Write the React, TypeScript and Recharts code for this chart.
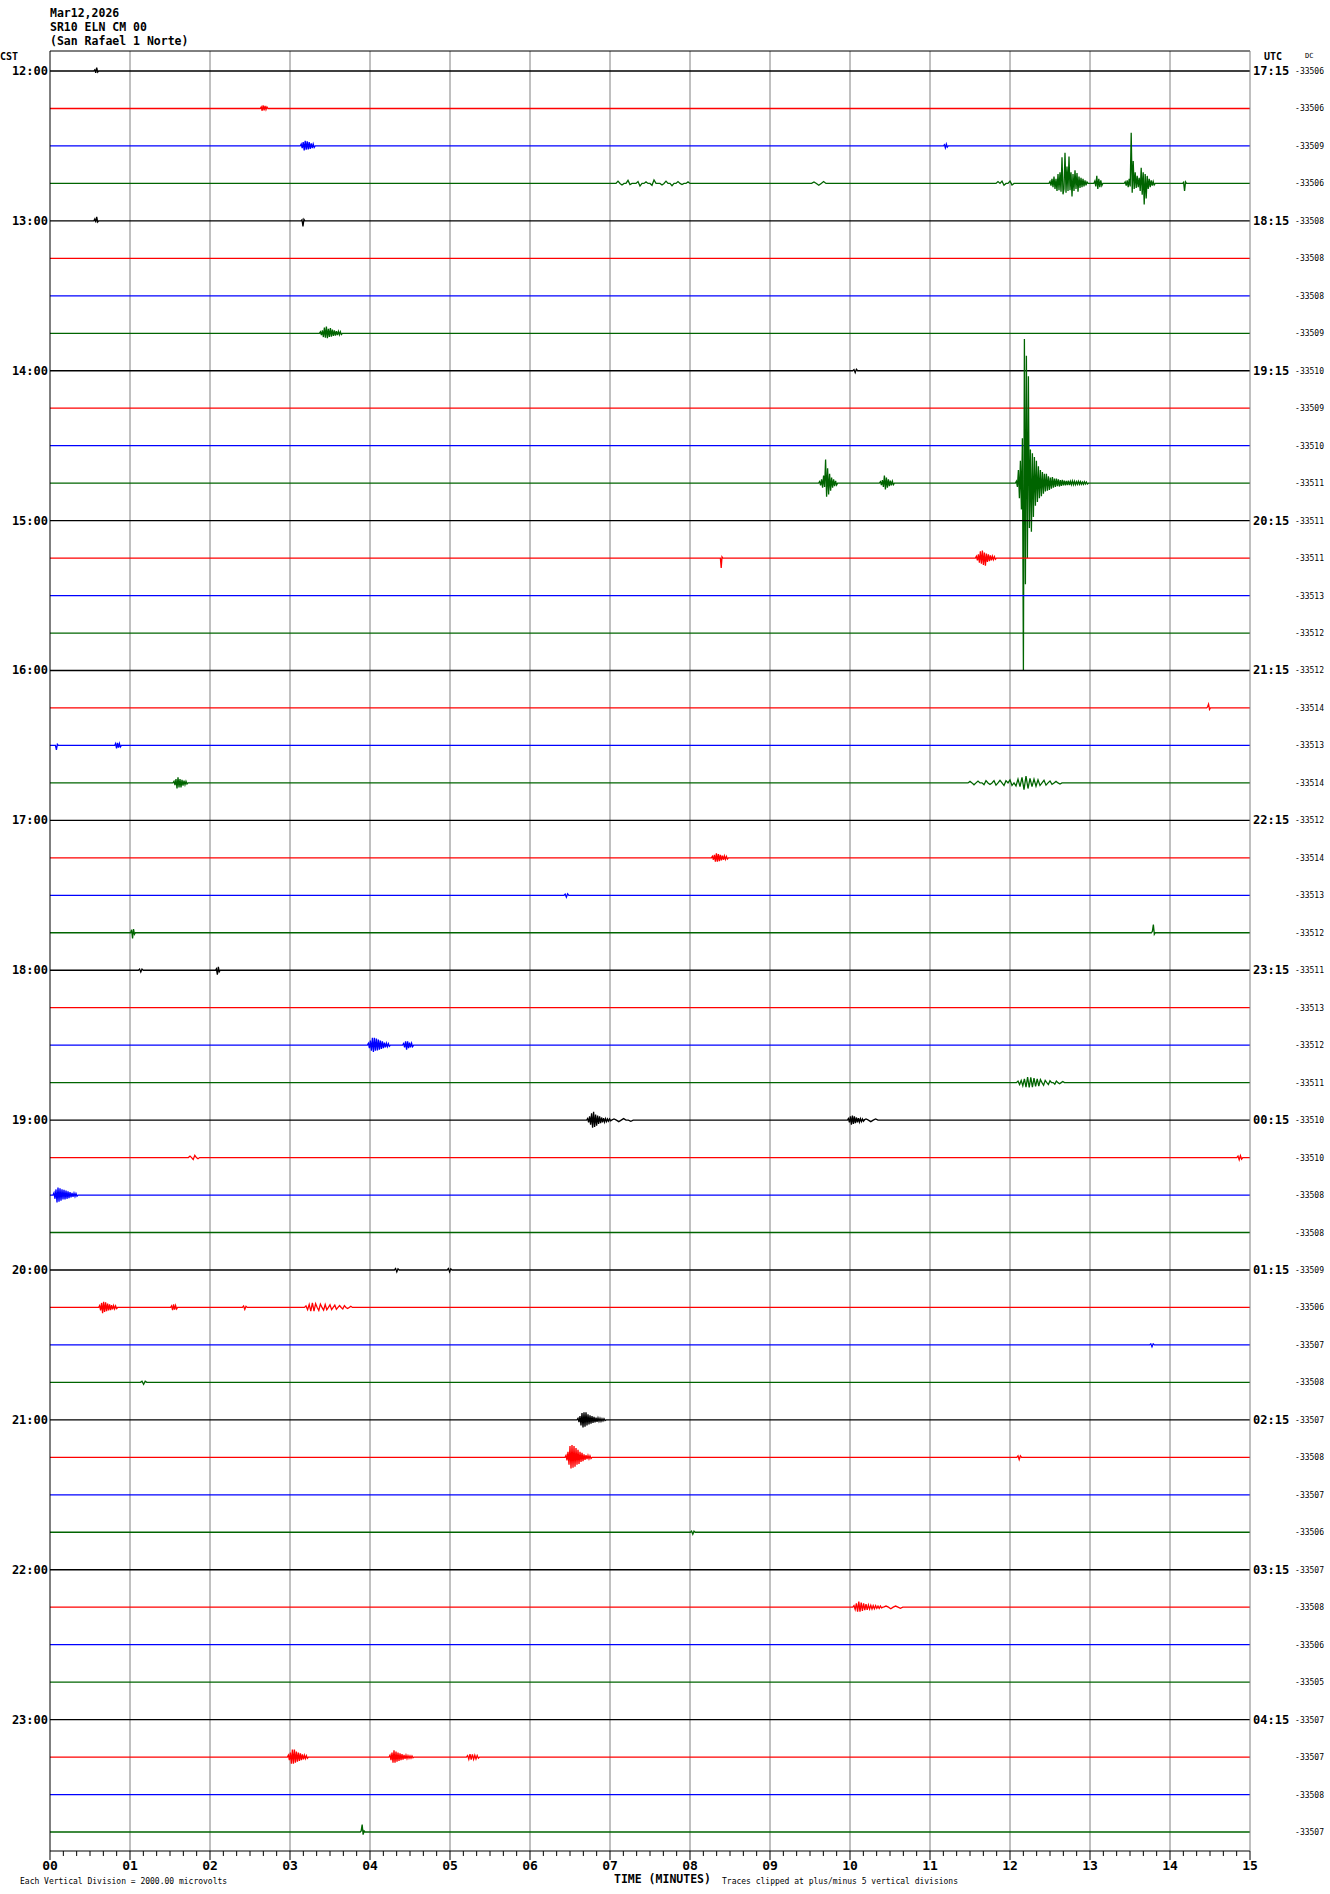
import React from 'react';
import { LineChart, Line, XAxis, YAxis, ReferenceLine } from 'recharts';

const CST_LABELS = ['12:00', '13:00', '14:00', '15:00', '16:00', '17:00', '18:00', '19:00', '20:00', '21:00', '22:00', '23:00'];
const UTC_LABELS = ['17:15', '18:15', '19:15', '20:15', '21:15', '22:15', '23:15', '00:15', '01:15', '02:15', '03:15', '04:15'];
const DC_VALUES = [
  -33506, -33506, -33509, -33506, -33508, -33508, -33508, -33509,
  -33510, -33509, -33510, -33511, -33511, -33511, -33513, -33512,
  -33512, -33514, -33513, -33514, -33512, -33514, -33513, -33512,
  -33511, -33513, -33512, -33511, -33510, -33510, -33508, -33508,
  -33509, -33506, -33507, -33508, -33507, -33508, -33507, -33506,
  -33507, -33508, -33506, -33505, -33507, -33507, -33508, -33507,
];
const MINUTE_LABELS = ['00', '01', '02', '03', '04', '05', '06', '07', '08', '09', '10', '11', '12', '13', '14', '15'];
const TRACE_COLORS = ['#000000', '#ff0000', '#0000ff', '#006400'];

// events: trace row, start minute, sample step (minutes), amplitudes in vertical divisions
type Ev = { trace: number; start: number; step: number; amps: number[] };
const EVENTS: Ev[] = [
  { trace: 0, start: 0.56, step: 0.012, amps: [0.03, -0.05, 0.09, -0.03] },
  { trace: 1, start: 2.64, step: 0.012, amps: [0.04, -0.06, 0.08, -0.05, 0.07, -0.03, 0.04] },
  { trace: 2, start: 3.14, step: 0.0125, amps: [0.05, -0.06, 0.1, -0.12, 0.14, -0.1, 0.12, -0.09, 0.1, -0.08, 0.07, -0.06, 0.05, -0.04] },
  { trace: 2, start: 11.18, step: 0.012, amps: [0.03, -0.05, 0.05, -0.03] },
  { trace: 3, start: 7.1, step: 0.025, amps: [0.06, 0, -0.04, 0, 0, 0.08, -0.03, 0, 0, 0, 0.05, -0.07, 0, 0, 0.04, 0, 0, -0.05, 0.09, 0, 0, 0, -0.04, 0, 0.06, 0, 0, -0.06, 0, 0, 0.05, 0, -0.03, 0, 0, 0.04] },
  { trace: 3, start: 9.55, step: 0.03, amps: [0.04, 0, -0.05, 0, 0.05, 0] },
  { trace: 3, start: 11.85, step: 0.025, amps: [0.05, 0, 0.06, -0.05, 0, 0, 0.06, -0.04] },
  { trace: 3, start: 12.5, step: 0.0125, amps: [0.05, -0.06, 0.12, -0.1, 0.18, -0.15, 0.12, -0.2, 0.25, -0.18, 0.3, -0.22, 0.7, -0.29, -0.15, 0.82, -0.25, 0.45, -0.2, 0.72, -0.18, 0.3, -0.35, 0.25, -0.2, 0.35, -0.15, 0.28, -0.22, 0.18, -0.12, 0.15, -0.1, 0.12, -0.08, 0.08, -0.05, 0.04] },
  { trace: 3, start: 13.06, step: 0.0125, amps: [0.06, -0.08, 0.2, -0.15, 0.12, -0.1, 0.08, -0.06] },
  { trace: 3, start: 13.44, step: 0.0125, amps: [0.04, -0.06, 0.08, -0.1, 0.12, -0.08, 1.35, -0.25, 0.6, -0.15, 0.3, -0.12, 0.2, -0.1, 0.15, -0.2, 0.42, -0.3, 0.3, -0.56, 0.25, -0.4, 0.2, -0.15, 0.12, -0.1, 0.08, -0.06, 0.05, -0.04] },
  { trace: 3, start: 14.17, step: 0.012, amps: [0.03, -0.2, 0.04] },
  { trace: 4, start: 0.56, step: 0.012, amps: [0.05, -0.04, 0.11, -0.03] },
  { trace: 4, start: 3.15, step: 0.012, amps: [0.03, -0.15, 0.04] },
  { trace: 7, start: 3.38, step: 0.0125, amps: [0.04, -0.05, 0.08, -0.1, 0.15, -0.12, 0.18, -0.13, 0.12, -0.1, 0.14, -0.09, 0.1, -0.07, 0.08, -0.06, 0.06, -0.05, 0.05, -0.04, 0.04, -0.03] },
  { trace: 8, start: 10.05, step: 0.015, amps: [0.03, -0.05, 0.04] },
  { trace: 11, start: 9.62, step: 0.0125, amps: [0.04, -0.06, 0.1, -0.12, 0.2, -0.1, 0.63, -0.36, 0.4, -0.3, 0.25, -0.2, 0.15, -0.12, 0.1, -0.08, 0.06, -0.05] },
  { trace: 11, start: 10.38, step: 0.0125, amps: [0.04, -0.05, 0.08, -0.1, 0.2, -0.17, 0.15, -0.12, 0.1, -0.08, 0.07, -0.06, 0.05, -0.04] },
  {
    trace: 11, start: 12.08, step: 0.0125, amps: [
      0.05, -0.1, 0.35, -0.4, 0.6, -0.7, 1.2, -5.0, 3.85, -2.7, 3.4, -2.0, 2.85, -1.2, 0.9, -1.3,
      0.8, -0.9, 0.7, -0.6, 0.6, -0.5, 0.45, -0.4, 0.35, -0.35, 0.3, -0.28, 0.25, -0.22, 0.25, -0.2,
      0.18, -0.18, 0.15, -0.15, 0.16, -0.12, 0.12, -0.1, 0.12, -0.08, 0.1, -0.09, 0.08, -0.07, 0.09, -0.06,
      0.07, -0.06, 0.06, -0.05, 0.07, -0.05, 0.05, -0.04, 0.06, -0.04, 0.05, -0.04, 0.04, -0.03, 0.05, -0.03,
      0.04, -0.03, 0.03, -0.03, 0.04, -0.02, 0.03, -0.02,
    ],
  },
  { trace: 13, start: 8.39, step: 0.01, amps: [-0.26, 0.03] },
  { trace: 13, start: 11.58, step: 0.0125, amps: [0.05, -0.06, 0.1, -0.12, 0.18, -0.15, 0.2, -0.18, 0.15, -0.2, 0.12, -0.1, 0.1, -0.08, 0.07, -0.06, 0.05, -0.04, 0.04, -0.03] },
  { trace: 17, start: 14.47, step: 0.012, amps: [0.03, 0.1, -0.04] },
  { trace: 18, start: 0.08, step: 0.012, amps: [-0.12, 0.03] },
  { trace: 18, start: 0.82, step: 0.012, amps: [0.05, -0.08, 0.07, -0.06, 0.05, -0.04] },
  { trace: 19, start: 1.55, step: 0.0125, amps: [0.04, -0.06, 0.1, -0.15, 0.15, -0.12, 0.1, -0.12, 0.08, -0.07, 0.06, -0.05, 0.04, -0.03] },
  {
    trace: 19, start: 11.5, step: 0.025, amps: [
      0.04, 0, -0.05, 0, 0.05, 0, 0, -0.05, 0.06, 0, -0.04, 0, 0.06, -0.06,
      0, 0.07, 0, -0.07, 0.06, 0, 0.08, -0.07, 0, -0.08, 0.1, -0.1, 0.15, -0.18, 0.18, -0.15,
      0.12, -0.1, 0.1, -0.09, 0.08, -0.07, 0, 0.07, -0.06, 0, 0.05, -0.04, 0, 0.04, 0, -0.03,
    ],
  },
  { trace: 21, start: 8.28, step: 0.0125, amps: [0.04, -0.05, 0.08, -0.1, 0.12, -0.1, 0.1, -0.09, 0.08, -0.07, 0.06, -0.05, 0.05, -0.04, 0.04, -0.03] },
  { trace: 22, start: 6.44, step: 0.015, amps: [0.03, -0.05, 0.04] },
  { trace: 23, start: 1.02, step: 0.012, amps: [0.08, -0.15, 0.1, -0.04] },
  { trace: 23, start: 13.78, step: 0.012, amps: [0.04, 0.22, -0.04] },
  { trace: 24, start: 1.12, step: 0.015, amps: [0.03, -0.05, 0.03] },
  { trace: 24, start: 2.08, step: 0.012, amps: [0.04, -0.12, 0.09, -0.04] },
  { trace: 26, start: 3.98, step: 0.0125, amps: [0.05, -0.08, 0.12, -0.15, 0.2, -0.18, 0.2, -0.15, 0.18, -0.14, 0.15, -0.12, 0.12, -0.1, 0.1, -0.08, 0.07, -0.06, 0.05, -0.04, 0.04, -0.03] },
  { trace: 26, start: 4.42, step: 0.0125, amps: [0.04, -0.06, 0.1, -0.12, 0.1, -0.08, 0.07, -0.06, 0.05, -0.04] },
  { trace: 27, start: 12.1, step: 0.02, amps: [0.04, -0.05, 0.06, -0.08, 0.1, -0.12, 0.15, -0.13, 0.14, -0.12, 0.12, -0.1, 0.1, -0.09, 0.08, 0, -0.07, 0.06, 0, -0.05, 0.05, 0, 0, -0.04, 0.04, 0, -0.03, 0, 0.03, 0] },
  { trace: 28, start: 6.72, step: 0.0125, amps: [0.04, -0.06, 0.1, -0.12, 0.18, -0.2, 0.22, -0.18, 0.15, -0.15, 0.12, -0.1, 0.1, -0.08, 0.07, -0.06, 0.05, -0.05, 0.04, -0.04, 0.03, -0.03, 0.03, -0.02] },
  { trace: 28, start: 7.05, step: 0.03, amps: [0.03, 0, -0.04, 0, 0.04, 0, 0, -0.03] },
  { trace: 28, start: 9.98, step: 0.0125, amps: [0.04, -0.06, 0.1, -0.12, 0.12, -0.1, 0.1, -0.08, 0.07, -0.06, 0.05, -0.05, 0.04, -0.04, 0.03, -0.03] },
  { trace: 28, start: 10.2, step: 0.03, amps: [0.03, 0, -0.04, 0, 0.03, 0] },
  { trace: 29, start: 1.75, step: 0.02, amps: [0.04, 0, -0.05, 0.06, 0, -0.03] },
  { trace: 29, start: 14.85, step: 0.015, amps: [0.04, -0.06, 0.05, -0.04] },
  { trace: 30, start: 0.05, step: 0.0125, amps: [0.06, -0.1, 0.15, -0.2, 0.2, -0.18, 0.18, -0.15, 0.15, -0.12, 0.14, -0.12, 0.12, -0.1, 0.1, -0.08, 0.08, -0.06, 0.06, -0.05, 0.05, -0.04, 0.04, -0.03] },
  { trace: 32, start: 4.32, step: 0.015, amps: [0.04, -0.05, 0.03] },
  { trace: 32, start: 4.98, step: 0.015, amps: [0.04, -0.05, 0.03] },
  { trace: 33, start: 0.62, step: 0.0125, amps: [0.05, -0.08, 0.12, -0.15, 0.15, -0.12, 0.14, -0.1, 0.1, -0.08, 0.08, -0.07, 0.06, -0.05, 0.05, -0.04, 0.04, -0.03] },
  { trace: 33, start: 1.52, step: 0.0125, amps: [0.04, -0.07, 0.08, -0.06, 0.05, -0.04] },
  { trace: 33, start: 2.42, step: 0.015, amps: [0.04, -0.05, 0.03] },
  { trace: 33, start: 3.2, step: 0.02, amps: [0.04, -0.06, 0.08, -0.1, 0.12, -0.1, 0.1, 0, -0.08, 0.09, 0, -0.07, 0.08, -0.06, 0, 0.07, -0.06, 0, 0.06, -0.05, 0, 0.05, 0, -0.04, 0.05, 0, -0.03, 0, 0.03, 0] },
  { trace: 34, start: 13.76, step: 0.015, amps: [0.03, -0.05, 0.03] },
  { trace: 35, start: 1.15, step: 0.02, amps: [0.03, -0.05, 0.03] },
  { trace: 36, start: 6.6, step: 0.0125, amps: [0.04, -0.06, 0.1, -0.15, 0.18, -0.2, 0.2, -0.18, 0.2, -0.15, 0.15, -0.12, 0.12, -0.1, 0.1, -0.08, 0.08, -0.07, 0.06, -0.05, 0.05, -0.04, 0.04, -0.04, 0.03, -0.03, 0.03, -0.02] },
  { trace: 37, start: 6.45, step: 0.0125, amps: [0.05, -0.08, 0.15, -0.2, 0.3, -0.3, 0.33, -0.28, 0.3, -0.25, 0.25, -0.2, 0.2, -0.18, 0.15, -0.12, 0.12, -0.1, 0.08, -0.07, 0.06, -0.05, 0.05, -0.04, 0.04, -0.03] },
  { trace: 37, start: 12.1, step: 0.015, amps: [0.04, -0.06, 0.04] },
  { trace: 39, start: 8.02, step: 0.015, amps: [0.03, -0.05, 0.03] },
  { trace: 41, start: 10.05, step: 0.015, amps: [0.04, -0.06, 0.1, -0.12, 0.15, -0.12, 0.12, -0.1, 0.1, -0.08, 0.08, -0.07, 0.06, -0.05, 0.05, -0.05, 0.04, -0.04, 0.04, -0.03, 0.03, -0.03, 0.03, -0.02] },
  { trace: 41, start: 10.45, step: 0.03, amps: [0.03, 0, -0.04, 0, 0.03, 0, -0.03, 0] },
  { trace: 45, start: 2.98, step: 0.0125, amps: [0.05, -0.08, 0.12, -0.18, 0.2, -0.18, 0.2, -0.15, 0.15, -0.12, 0.12, -0.1, 0.1, -0.08, 0.07, -0.06, 0.05, -0.04, 0.04, -0.03] },
  { trace: 45, start: 4.25, step: 0.0125, amps: [0.05, -0.08, 0.12, -0.15, 0.18, -0.15, 0.15, -0.12, 0.12, -0.1, 0.1, -0.08, 0.08, -0.07, 0.06, -0.05, 0.05, -0.04, 0.04, -0.03, 0.03, -0.03, 0.03, -0.02] },
  { trace: 45, start: 5.22, step: 0.015, amps: [0.04, -0.06, 0.08, -0.07, 0.07, -0.06, 0.05, -0.05, 0.04, -0.03] },
  { trace: 47, start: 3.89, step: 0.012, amps: [0.03, 0.2, -0.07, 0.03] },
];

const Y_TOP = 0.534;
const Y_BOTTOM = -47.507;
const FONT = '"DejaVu Sans Mono", monospace';

const traces = DC_VALUES.map((_, i) => {
  const pts: { t: number; v: number }[] = [{ t: 0, v: -i }];
  EVENTS.filter((e) => e.trace === i)
    .sort((a, b) => a.start - b.start)
    .forEach((e) => {
      pts.push({ t: e.start - e.step, v: -i });
      e.amps.forEach((a, k) => pts.push({ t: e.start + k * e.step, v: -i + a }));
      pts.push({ t: e.start + e.amps.length * e.step, v: -i });
    });
  pts.push({ t: 15, v: -i });
  return pts;
});

const xTicks: number[] = [];
MINUTE_LABELS.forEach((_, m) => {
  if (m < 15) for (let s = 0; s < 6; s++) xTicks.push(m + s / 6);
  else xTicks.push(m);
});
const rightTicks = DC_VALUES.map((_, i) => -i);
const leftTicks = CST_LABELS.map((_, h) => -h * 4);

const TimeTick = (props: any) => {
  const { x, y, payload } = props;
  const v = payload.value;
  const major = Math.abs(v - Math.round(v)) < 1e-6;
  return (
    <g>
      <line x1={x} x2={x} y1={y} y2={y + (major ? 9 : 5)} stroke="#000" strokeWidth={1} />
      {major && (
        <text x={x} y={y + 19} textAnchor="middle" fontFamily={FONT} fontWeight="bold" fontSize={13} fill="#000">
          {MINUTE_LABELS[Math.round(v)]}
        </text>
      )}
    </g>
  );
};

const CstTick = (props: any) => {
  const { x, y, payload } = props;
  const h = Math.round(-payload.value / 4);
  return (
    <text x={x - 2} y={y + 4} textAnchor="end" fontFamily={FONT} fontWeight="bold" fontSize={12} fill="#000">
      {CST_LABELS[h]}
    </text>
  );
};

const RightTick = (props: any) => {
  const { x, y, payload } = props;
  const i = Math.round(-payload.value);
  return (
    <g>
      {i % 4 === 0 && (
        <text x={x + 3} y={y + 4} fontFamily={FONT} fontWeight="bold" fontSize={12} fill="#000">
          {UTC_LABELS[i / 4]}
        </text>
      )}
      <text x={x + 74} y={y + 3} textAnchor="end" fontFamily={FONT} fontSize={8} fill="#000">
        {DC_VALUES[i]}
      </text>
    </g>
  );
};

export default function App() {
  return (
    <div style={{ position: 'absolute', left: 0, top: 0, width: 1330, height: 1894, background: '#fff' }}>
      <LineChart width={1330} height={1894} margin={{ top: 51, right: 0, bottom: 0, left: 0 }}>
        <XAxis
          dataKey="t"
          type="number"
          domain={[0, 15]}
          ticks={xTicks}
          interval={0}
          height={43}
          tickSize={0}
          tickMargin={0}
          tickLine={false}
          axisLine={{ stroke: '#000' }}
          tick={<TimeTick />}
          allowDataOverflow
        />
        <YAxis
          yAxisId="left"
          type="number"
          domain={[Y_BOTTOM, Y_TOP]}
          ticks={leftTicks}
          interval={0}
          width={50}
          tickSize={0}
          tickMargin={0}
          tickLine={false}
          axisLine={{ stroke: '#000' }}
          tick={<CstTick />}
          allowDataOverflow
        />
        <YAxis
          yAxisId="right"
          orientation="right"
          type="number"
          domain={[Y_BOTTOM, Y_TOP]}
          ticks={rightTicks}
          interval={0}
          width={80}
          tickSize={0}
          tickMargin={0}
          tickLine={false}
          axisLine={{ stroke: '#808080' }}
          tick={<RightTick />}
          allowDataOverflow
        />
        {MINUTE_LABELS.slice(1, 15).map((_, k) => (
          <ReferenceLine key={`g${k}`} yAxisId="left" x={k + 1} stroke="#808080" strokeWidth={1} />
        ))}
        <ReferenceLine yAxisId="left" y={Y_TOP} stroke="#000" strokeWidth={1} />
        {traces.map((pts, i) => (
          <Line
            key={`tr${i}`}
            yAxisId="left"
            data={pts}
            dataKey="v"
            type="linear"
            stroke={TRACE_COLORS[i % 4]}
            strokeWidth={1.3}
            dot={false}
            activeDot={false}
            isAnimationActive={false}
          />
        ))}
      </LineChart>
      <svg width={1330} height={1894} style={{ position: 'absolute', left: 0, top: 0, pointerEvents: 'none' }}>
        <g fontFamily={FONT} fontWeight="bold" fill="#000">
          <text x={50} y={17} fontSize={11.5}>Mar12,2026</text>
          <text x={50} y={31} fontSize={11.5}>SR10 ELN CM 00</text>
          <text x={50} y={45} fontSize={11.5}>(San Rafael 1 Norte)</text>
          <text x={0} y={60} fontSize={10}>CST</text>
          <text x={1264} y={60} fontSize={10}>UTC</text>
          <text x={1305} y={58} fontSize={7} fontWeight="normal">DC</text>
          <text x={614} y={1883} fontSize={11.5}>TIME (MINUTES)</text>
        </g>
        <g fontFamily={FONT} fill="#000" fontSize={8}>
          <text x={20} y={1884}>Each Vertical Division = 2000.00 microvolts</text>
          <text x={722} y={1884}>Traces clipped at plus/minus 5 vertical divisions</text>
        </g>
      </svg>
    </div>
  );
}
